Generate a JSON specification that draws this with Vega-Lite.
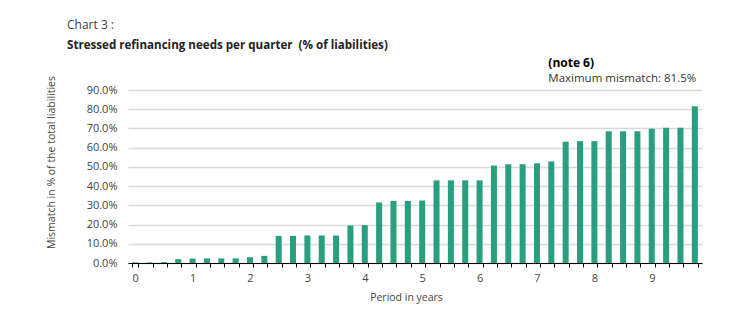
{
  "$schema": "https://vega.github.io/schema/vega-lite/v6.json",
  "autosize": {"type": "none"},
  "padding": {"left": 128, "top": 90, "right": 32, "bottom": 46},
  "width": 574,
  "height": 173,
  "background": "white",
  "title": {
    "text": "Chart 3 :",
    "subtitle": "Stressed refinancing needs per quarter \u00a0(% of liabilities)",
    "anchor": "start",
    "frame": "group",
    "dx": -61,
    "offset": 4,
    "font": "Open Sans",
    "fontSize": 12,
    "fontWeight": "normal",
    "color": "#404040",
    "subtitleFont": "Open Sans",
    "subtitleFontSize": 11.6,
    "subtitleFontWeight": "bold",
    "subtitleColor": "#222222",
    "subtitlePadding": 8
  },
  "config": {
    "view": {"stroke": null},
    "font": "Open Sans"
  },
  "data": {
    "values": [
      {"q": 0, "v": 0.003}, {"q": 0.25, "v": 0.003}, {"q": 0.5, "v": 0.005}, {"q": 0.75, "v": 0.02},
      {"q": 1, "v": 0.023}, {"q": 1.25, "v": 0.024}, {"q": 1.5, "v": 0.024}, {"q": 1.75, "v": 0.024},
      {"q": 2, "v": 0.03}, {"q": 2.25, "v": 0.037}, {"q": 2.5, "v": 0.141}, {"q": 2.75, "v": 0.141},
      {"q": 3, "v": 0.143}, {"q": 3.25, "v": 0.143}, {"q": 3.5, "v": 0.143}, {"q": 3.75, "v": 0.195},
      {"q": 4, "v": 0.197}, {"q": 4.25, "v": 0.315}, {"q": 4.5, "v": 0.323}, {"q": 4.75, "v": 0.323},
      {"q": 5, "v": 0.325}, {"q": 5.25, "v": 0.43}, {"q": 5.5, "v": 0.43}, {"q": 5.75, "v": 0.43},
      {"q": 6, "v": 0.43}, {"q": 6.25, "v": 0.507}, {"q": 6.5, "v": 0.514}, {"q": 6.75, "v": 0.514},
      {"q": 7, "v": 0.519}, {"q": 7.25, "v": 0.528}, {"q": 7.5, "v": 0.631}, {"q": 7.75, "v": 0.634},
      {"q": 8, "v": 0.634}, {"q": 8.25, "v": 0.685}, {"q": 8.5, "v": 0.685}, {"q": 8.75, "v": 0.685},
      {"q": 9, "v": 0.699}, {"q": 9.25, "v": 0.704}, {"q": 9.5, "v": 0.704}, {"q": 9.75, "v": 0.815}
    ]
  },
  "layer": [
    {
      "mark": {"type": "bar", "color": "#2a9f7f"},
      "encoding": {
        "x": {
          "field": "q",
          "type": "ordinal",
          "scale": {"paddingInner": 0.58, "paddingOuter": 0.29},
          "axis": {
            "title": "Period in years",
            "titleFontSize": 10.5,
            "titleFontWeight": "normal",
            "titleColor": "#444444",
            "titleX": 278,
            "titlePadding": 9,
            "labelAngle": 0,
            "labelExpr": "datum.value % 1 === 0 ? datum.label : ''",
            "labelFontSize": 11,
            "labelColor": "#444444",
            "labelPadding": 5,
            "tickBand": "extent",
            "tickColor": "#000000",
            "tickSize": 4,
            "domainColor": "#000000",
            "domainWidth": 1,
            "grid": false
          }
        },
        "y": {
          "field": "v",
          "type": "quantitative",
          "scale": {"domain": [0, 0.9], "nice": false},
          "axis": {
            "title": "Mismatch in % of the total liabilities",
            "titleFontSize": 10.5,
            "titleFontWeight": "normal",
            "titleColor": "#444444",
            "titleX": -77,
            "titleY": 72,
            "titleBaseline": "middle",
            "values": [0, 0.1, 0.2, 0.3, 0.4, 0.5, 0.6, 0.7, 0.8, 0.9],
            "format": ".1%",
            "labelOverlap": false,
            "labelFontSize": 11,
            "labelColor": "#444444",
            "labelPadding": 11,
            "domain": false,
            "ticks": false,
            "grid": true,
            "gridColor": "#d9d9d9",
            "gridWidth": 1.5
          }
        }
      }
    },
    {
      "data": {"values": [{"label": "(note 6)"}]},
      "mark": {"type": "text", "align": "left", "baseline": "alphabetic", "fontSize": 12, "fontWeight": "bold", "color": "#000000", "dy": -23.5},
      "encoding": {
        "x": {"datum": 7.25, "type": "ordinal", "bandPosition": 0},
        "y": {
          "datum": 0.9,
          "type": "quantitative",
          "axis": {
            "title": "Mismatch in % of the total liabilities",
            "titleFontSize": 10.5,
            "titleFontWeight": "normal",
            "titleColor": "#444444",
            "titleX": -77,
            "titleY": 72,
            "titleBaseline": "middle",
            "values": [0, 0.1, 0.2, 0.3, 0.4, 0.5, 0.6, 0.7, 0.8, 0.9],
            "format": ".1%",
            "labelOverlap": false,
            "labelFontSize": 11,
            "labelColor": "#444444",
            "labelPadding": 11,
            "domain": false,
            "ticks": false,
            "grid": true,
            "gridColor": "#d9d9d9",
            "gridWidth": 1.5
          }
        },
        "text": {"field": "label"}
      }
    },
    {
      "data": {"values": [{"label": "Maximum mismatch: 81.5%"}]},
      "mark": {"type": "text", "align": "left", "baseline": "alphabetic", "fontSize": 11.5, "color": "#333333", "dy": -8},
      "encoding": {
        "x": {"datum": 7.25, "type": "ordinal", "bandPosition": 0},
        "y": {
          "datum": 0.9,
          "type": "quantitative",
          "axis": {
            "title": "Mismatch in % of the total liabilities",
            "titleFontSize": 10.5,
            "titleFontWeight": "normal",
            "titleColor": "#444444",
            "titleX": -77,
            "titleY": 72,
            "titleBaseline": "middle",
            "values": [0, 0.1, 0.2, 0.3, 0.4, 0.5, 0.6, 0.7, 0.8, 0.9],
            "format": ".1%",
            "labelOverlap": false,
            "labelFontSize": 11,
            "labelColor": "#444444",
            "labelPadding": 11,
            "domain": false,
            "ticks": false,
            "grid": true,
            "gridColor": "#d9d9d9",
            "gridWidth": 1.5
          }
        },
        "text": {"field": "label"}
      }
    }
  ]
}
